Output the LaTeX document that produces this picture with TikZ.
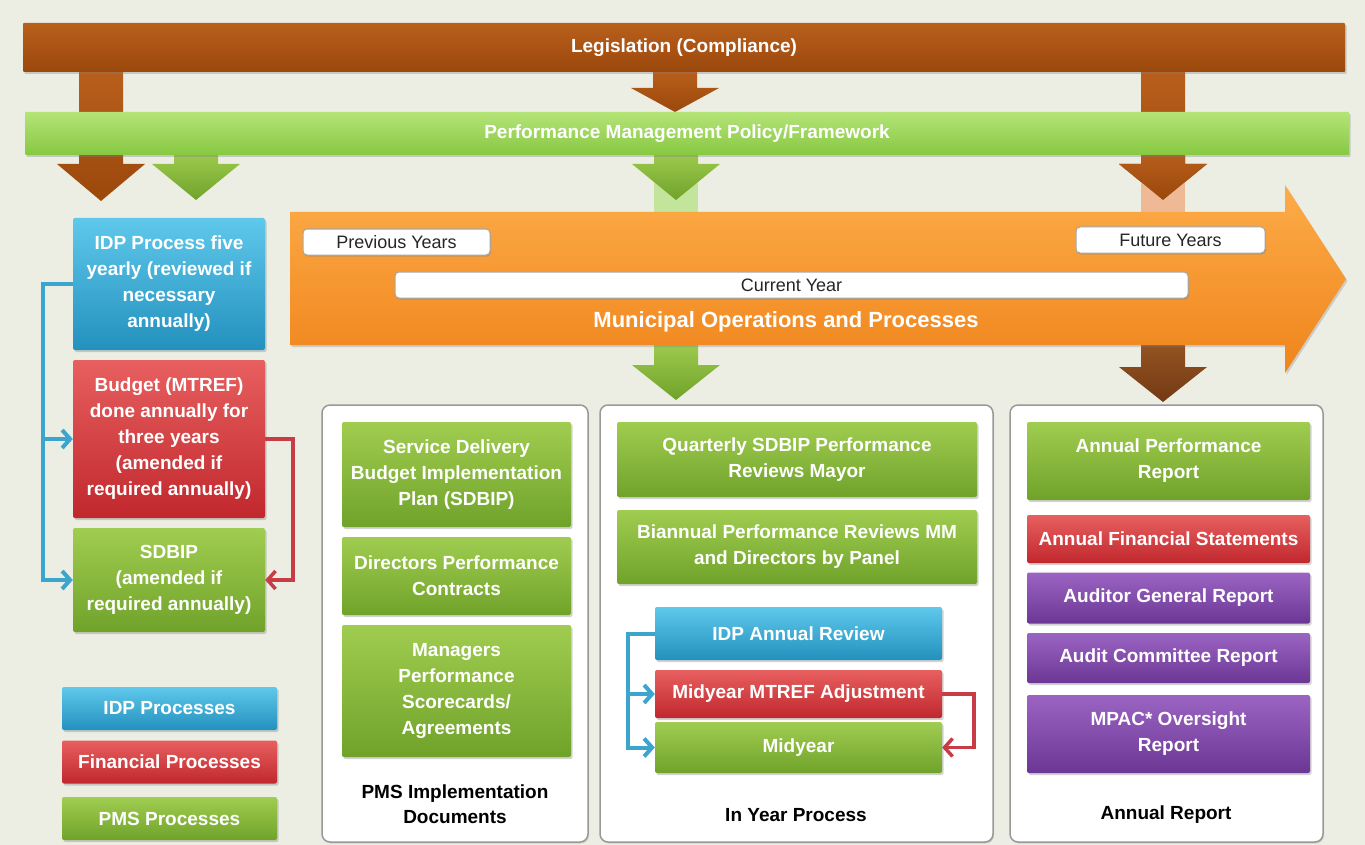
\documentclass[tikz,border=0pt]{standalone}
\usepackage{fontspec}
\setmainfont{Liberation Sans}
\usetikzlibrary{shadows,arrows.meta,calc}
\definecolor{bg}{RGB}{236,238,228}
\definecolor{brownA}{RGB}{185,95,28}
\definecolor{brownB}{RGB}{155,72,12}
\definecolor{brownC}{RGB}{150,85,35}
\definecolor{brownD}{RGB}{115,58,20}
\definecolor{limeA}{RGB}{180,228,120}
\definecolor{limeB}{RGB}{135,200,65}
\definecolor{grA}{RGB}{160,205,80}
\definecolor{grB}{RGB}{112,162,42}
\definecolor{blA}{RGB}{95,200,235}
\definecolor{blB}{RGB}{35,145,190}
\definecolor{rdA}{RGB}{232,95,95}
\definecolor{rdB}{RGB}{192,40,45}
\definecolor{puA}{RGB}{155,100,195}
\definecolor{puB}{RGB}{108,55,148}
\definecolor{orA}{RGB}{252,172,72}
\definecolor{orB}{RGB}{240,132,28}
\definecolor{conblue}{RGB}{60,165,205}
\definecolor{conred}{RGB}{200,60,70}
\definecolor{lightgreen}{RGB}{195,228,155}
\definecolor{peach}{RGB}{240,185,150}
\newcommand{\fatdown}[6]{\shade[top color=#5,bottom color=#6] ({#1-22},#2) -- ({#1+22},#2) -- ({#1+22},#3) -- ({#1+44},#3) -- (#1,#4) -- ({#1-44},#3) -- ({#1-22},#3) -- cycle;}
\tikzset{
  sz/.style 2 args={minimum width=#1,minimum height=#2},
  box/.style={rounded corners=2pt, inner sep=1pt, align=center, text=white,
    font=\fontsize{19}{26}\selectfont\bfseries,
    drop shadow={opacity=0.35,shadow xshift=1.5pt,shadow yshift=-2pt}},
  gbox/.style={box, top color=grA, bottom color=grB},
  bbox/.style={box, top color=blA, bottom color=blB},
  rbox/.style={box, top color=rdA, bottom color=rdB},
  pbox/.style={box, top color=puA, bottom color=puB},
  panel/.style={draw=gray!80, line width=1.5pt, fill=white, rounded corners=8pt,
    drop shadow={opacity=0.25,shadow xshift=1pt,shadow yshift=-1.5pt}},
  yearbox/.style={draw=gray!70, line width=1pt, fill=white, rounded corners=4pt,
    text=black!85, font=\fontsize{18}{22}\selectfont,
    drop shadow={opacity=0.4,shadow xshift=1pt,shadow yshift=-1.5pt}},
  plabel/.style={align=center, text=black, font=\fontsize{19}{25}\selectfont\bfseries},
  bcon/.style={draw=conblue, line width=4pt, -{Straight Barb[length=8pt,width=18pt]}},
  rcon/.style={draw=conred, line width=3.5pt, -{Straight Barb[length=8pt,width=18pt]}},
}
\begin{document}
\begin{tikzpicture}[x=1pt,y=-1pt]
\fill[bg] (0,0) rectangle (1365,845);
\useasboundingbox (0,0) rectangle (1365,845);

% arrows from the top bars
\fatdown{101}{70}{164}{201}{brownA}{brownB}
\fatdown{675}{70}{88}{112}{brownA}{brownB}
\fatdown{1163}{70}{164}{200}{brownA}{brownB}

\node[box, top color=brownA, bottom color=brownB, sz={1322}{49}, rounded corners=1pt] (leg) at (684,47.5) {Legislation (Compliance)};

\fill[lightgreen] (654,180) rectangle (698,216);
\fill[peach] (1141,180) rectangle (1185,216);
\fatdown{196}{150}{164}{200}{grA}{grB}
\fatdown{676}{150}{164}{200}{grA}{grB}
\fatdown{1163}{150}{164}{200}{brownA}{brownB}

\node[box, top color=limeA, bottom color=limeB, sz={1324}{43}, rounded corners=1pt] (pmf) at (687,133.5) {Performance Management Policy/Framework};

% arrows below the orange arrow
\fatdown{676}{340}{365}{400}{grA}{grB}
\fatdown{1163}{340}{367}{402}{brownC}{brownD}

% big orange arrow
\shade[top color=orA, bottom color=orB, drop shadow={opacity=0.3,shadow xshift=1.5pt,shadow yshift=-2pt}]
  (290,212) -- (1285,212) -- (1285,185) -- (1346,279) -- (1285,373) -- (1285,345) -- (290,345) -- cycle;
\node[yearbox, sz={187}{26}] (prev) at (396.5,242) {Previous Years};
\node[yearbox, sz={189}{26}] (fut) at (1170.5,240) {Future Years};
\node[yearbox, sz={793}{26}] (cur) at (791.5,285) {Current Year};
\node[text=white, font=\fontsize{22}{26}\selectfont\bfseries] (mun) at (786,322) {Municipal Operations and Processes};

% left column
\node[bbox, sz={192}{132}] (idp) at (169,284) {IDP Process five\\yearly (reviewed if\\necessary\\annually)};
\node[rbox, sz={192}{158}] (budget) at (169,439) {Budget (MTREF)\\done annually for\\three years\\(amended if\\required annually)};
\node[gbox, sz={192}{104}] (sdbip) at (169,580) {SDBIP\\(amended if\\required annually)};

\draw[bcon] (idp.west) -- ++(-30,0) coordinate (bl) |- (sdbip.west);
\draw[bcon] (bl |- budget.west) -- (budget.west);
\draw[rcon] (budget.east) -- ++(28,0) |- (sdbip.east);

% legend
\node[bbox, sz={215}{43}] (lgidp) at (169.5,708.5) {IDP Processes};
\node[rbox, sz={215}{43}] (lgfin) at (169.5,762) {Financial Processes};
\node[gbox, sz={215}{43}] (lgpms) at (169.5,818.5) {PMS Processes};

% panels
\node[panel, sz={266}{437}] (p1) at (455,623.5) {};
\node[panel, sz={393}{437}] (p2) at (796.5,623.5) {};
\node[panel, sz={313}{437}] (p3) at (1166.5,623.5) {};

% panel 1
\node[gbox, sz={229}{105}] (sd) at (456.5,474.5) {Service Delivery\\Budget Implementation\\Plan (SDBIP)};
\node[gbox, sz={229}{78}] (dir) at (456.5,576) {Directors Performance\\Contracts};
\node[gbox, sz={229}{132}] (man) at (456.5,691) {Managers\\Performance\\Scorecards/\\Agreements};
\node[plabel] (l1) at (455,804) {PMS Implementation\\Documents};

% panel 2
\node[gbox, sz={360}{75}] (qrt) at (797,459.5) {Quarterly SDBIP Performance\\Reviews Mayor};
\node[gbox, sz={360}{74}] (bia) at (797,547) {Biannual Performance Reviews MM\\and Directors by Panel};
\node[bbox, sz={287}{53}] (idpr) at (798.5,633.5) {IDP Annual Review};
\node[rbox, sz={287}{48}] (mtref) at (798.5,694) {Midyear MTREF Adjustment};
\node[gbox, sz={287}{51}] (mid) at (798.5,747.5) {Midyear};
\node[plabel] (l2) at (796,815) {In Year Process};

\draw[bcon] (idpr.west) -- ++(-27,0) coordinate (bl2) |- (mid.west);
\draw[bcon] (bl2 |- mtref.west) -- (mtref.west);
\draw[rcon] (mtref.east) -- ++(32,0) |- (mid.east);

% panel 3
\node[gbox, sz={283}{78}] (apr) at (1168.5,461) {Annual Performance\\Report};
\node[rbox, sz={283}{48}] (afs) at (1168.5,539) {Annual Financial Statements};
\node[pbox, sz={283}{51}] (agr) at (1168.5,598) {Auditor General Report};
\node[pbox, sz={283}{50}] (acr) at (1168.5,658) {Audit Committee Report};
\node[pbox, sz={283}{78}] (mpac) at (1168.5,734) {MPAC* Oversight\\Report};
\node[plabel] (l3) at (1166,815) {Annual Report};
\end{tikzpicture}
\end{document}
